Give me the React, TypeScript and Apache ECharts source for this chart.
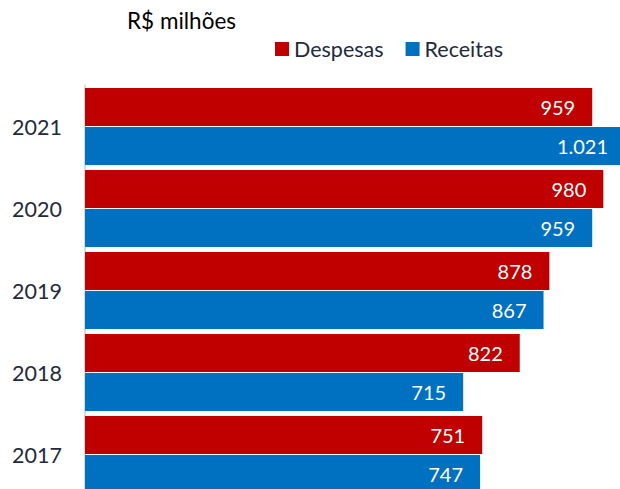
import React, { useEffect, useRef } from "react";
import * as echarts from "echarts";

const years = ["2017", "2018", "2019", "2020", "2021"];
const despesas = [751, 822, 878, 980, 959];
const receitas = [747, 715, 867, 959, 1021];
const unitLabel = "R$ milhões";

const RED = "#C00000";
const BLUE = "#0070C0";
const FONT = "Lato";

const fmt = (v: number) => {
  const s = String(Math.round(v));
  return s.replace(/\B(?=(\d{3})+(?!\d))/g, ".");
};

export default function App() {
  const ref = useRef<HTMLDivElement>(null);
  useEffect(() => {
    if (!ref.current) return;
    const chart = echarts.init(ref.current, null, { renderer: "svg" });
    const label = {
      show: true,
      position: "insideRight" as const,
      distance: 17,
      color: "#ffffff",
      fontSize: 20,
      fontFamily: FONT,
      formatter: (p: any) => fmt(p.value),
    };
    chart.setOption({
      animation: false,
      backgroundColor: "#ffffff",
      textStyle: { fontFamily: FONT },
      graphic: [
        {
          type: "text",
          left: 127,
          top: 9,
          style: { text: unitLabel, fontSize: 22.5, fontFamily: FONT, fill: "#000000" },
        },
      ],
      legend: {
        left: 270,
        top: 33,
        itemWidth: 14,
        itemHeight: 14,
        itemGap: 22,
        icon: "rect",
        textStyle: { fontSize: 21.5, color: "#1F2A3C", fontFamily: FONT },
        data: ["Despesas", "Receitas"],
      },
      grid: {
        left: 85,
        top: 85.5,
        width: 540,
        height: 410,
        containLabel: false,
        outerBoundsMode: "none",
      },
      xAxis: {
        type: "value",
        min: 0,
        max: 1021,
        show: false,
        splitLine: { show: false },
      },
      yAxis: {
        type: "category",
        data: years,
        axisLine: { show: true, lineStyle: { color: "#D9D9D9", width: 2 } },
        axisTick: { show: false },
        axisLabel: {
          fontSize: 21.5,
          color: "#1F2A3C",
          fontFamily: FONT,
          margin: 23,
          align: "right",
        },
      },
      series: [
        {
          name: "Despesas",
          type: "bar",
          data: despesas,
          itemStyle: { color: RED },
          barGap: "3%",
          barCategoryGap: "6%",
          label,
        },
        {
          name: "Receitas",
          type: "bar",
          data: receitas,
          itemStyle: { color: BLUE },
          barGap: "3%",
          barCategoryGap: "6%",
          label,
        },
      ],
    });
    return () => chart.dispose();
  }, []);
  return (
    <div
      ref={ref}
      style={{ position: "fixed", left: 0, top: 0, width: 620, height: 489 }}
    />
  );
}
